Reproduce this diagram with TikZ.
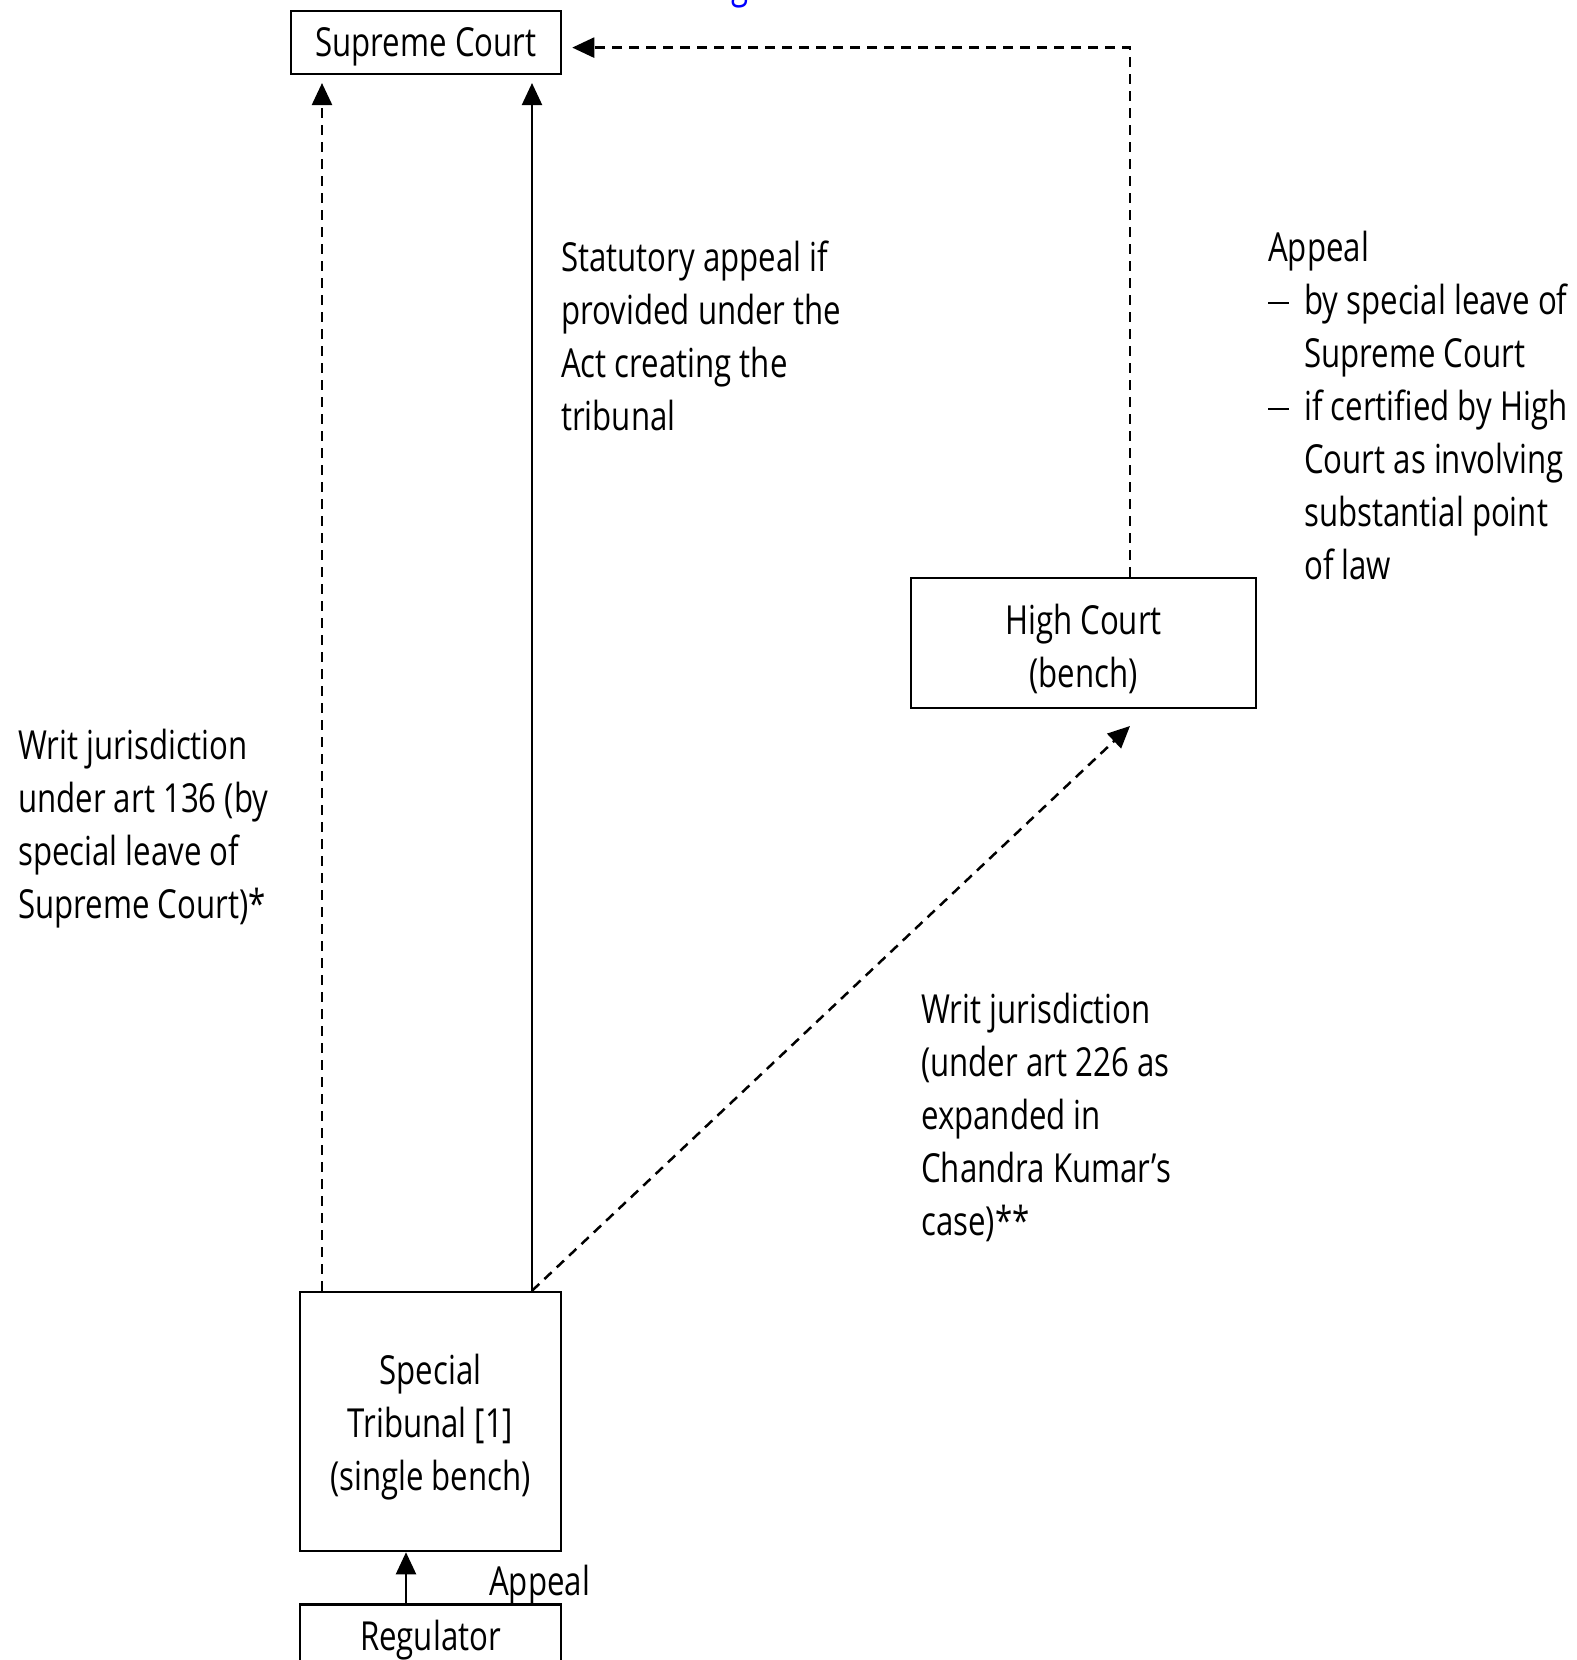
\documentclass[tikz,border=0pt]{standalone}
\usepackage{fontspec}
\setmainfont{Open Sans}[FakeStretch=0.78]
\usetikzlibrary{arrows.meta,calc}
\newcommand{\hdash}{\makebox[36pt][l]{\rule[10pt]{21pt}{2.4pt}}}
\tikzset{
  box/.style={draw, line width=2.5pt, inner sep=0pt},
  txt/.style={align=center, inner sep=0pt},
  lbl/.style={align=left, inner sep=0pt},
  conn/.style={line width=2.2pt, -{Triangle[length=22pt,width=20pt]}},
  dconn/.style={conn, line width=2.5pt, dash pattern=on 10pt off 7pt},
}
\begin{document}
\begin{tikzpicture}[x=1pt,y=-1pt,font=\fontsize{40}{53}\selectfont]
\useasboundingbox (0,0) rectangle (1577,1660);
\clip (0,0) rectangle (1577,1660);
\fill[white] (0,0) rectangle (1577,1660);
% blue fragment at top
\node[text=blue, anchor=base, inner sep=0pt] (frag) at (740,-2) {g};
% boxes
\node[box, minimum width=270pt, minimum height=63pt] (sc) at (426,42.3) {};
\node[txt] (sctxt) at (426,47) {Supreme Court};
\node[box, minimum width=345pt, minimum height=130pt] (hc) at (1083.5,643) {};
\node[txt] (hctxt) at (1083.5,649) {High Court\\(bench)};
\node[box, minimum width=261pt, minimum height=259pt] (st) at (430.5,1421.5) {};
\node[txt] (sttxt) at (430.5,1427) {Special\\Tribunal [1]\\(single bench)};
\node[box, minimum width=261pt, minimum height=100pt, anchor=north] (reg) at (430.5,1603) {};
\node[txt] (regtxt) at (430.5,1640) {Regulator};
% reference coordinates
\coordinate (xL) at (322,0);
\coordinate (xR) at (532,0);
\coordinate (xA) at (406,0);
\coordinate (corner) at (1130,47.6);
\coordinate (hctip) at (1130,726);
% connectors
\draw[dconn, shorten >=8pt] (st.north -| xL) -- (sc.south -| xL);
\draw[conn, shorten >=8pt] (st.north -| xR) -- (sc.south -| xR);
\draw[dconn] (st.north -| xR) -- (hctip);
\draw[dconn, shorten >=10pt] (hc.north -| corner) -- (corner) -- (corner -| sc.east);
\draw[conn] (reg.north -| xA) -- (st.south -| xA);
% labels
\node[lbl, anchor=west] (stat) at (561,336) {Statutory appeal if\\provided under the\\Act creating the\\tribunal};
\node[lbl, anchor=west] (hcapp) at (1268,405) {Appeal\\\hdash by special leave of\\\hspace*{36pt}Supreme Court\\\hdash if certified by High\\\hspace*{36pt}Court as involving\\\hspace*{36pt}substantial point\\\hspace*{36pt}of law};
\node[lbl, anchor=west] (w136) at (18,829) {Writ jurisdiction\\under art 136 (by\\special leave of\\Supreme Court)*};
\node[lbl, anchor=west] (w226) at (921,1117) {Writ jurisdiction\\(under art 226 as\\expanded in\\Chandra Kumar's\\case)**};
\node[lbl, anchor=west] (app) at (489,1585) {Appeal};
\end{tikzpicture}
\end{document}
